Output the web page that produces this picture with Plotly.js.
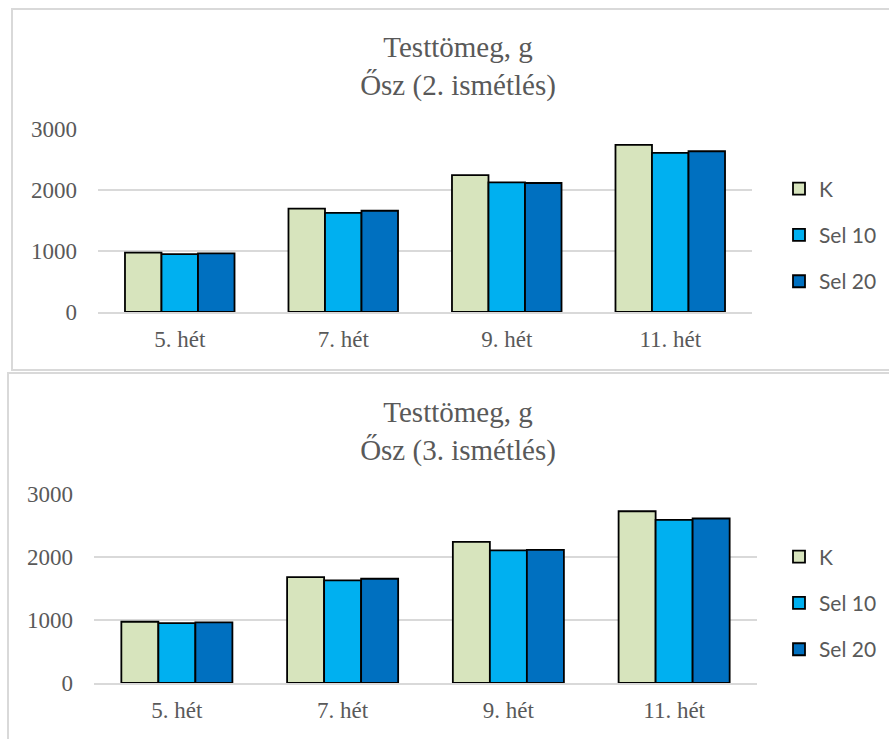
<!DOCTYPE html>
<html>
<head>
<meta charset="utf-8">
<script src="https://cdn.plot.ly/plotly-3.0.1.min.js"></script>
<style>
  html, body { margin: 0; padding: 0; background: #ffffff; width: 889px; height: 739px; overflow: hidden; }
  .plot { position: absolute; left: 0; width: 889px; }
  .box { position: absolute; border: 2px solid #d9d9d9; pointer-events: none; box-sizing: border-box; }
</style>
</head>
<body>
<div id="chart1" class="plot" style="top:0px;height:370px;"></div>
<div id="chart2" class="plot" style="top:370px;height:369px;"></div>
<div class="box" style="left:11px;top:8px;width:890px;height:363px;"></div>
<div class="box" style="left:7px;top:372px;width:890px;height:380px;"></div>
<script>
// Categories (weeks)
const categories = ["5. hét", "7. hét", "9. hét", "11. hét"];
const seriesNames = ["K", "Sel 10", "Sel 20"];

// Chart 1: Ősz (2. ismétlés)
const k_rep2     = [975, 1695, 2245, 2740];
const sel10_rep2 = [950, 1625, 2125, 2610];
const sel20_rep2 = [960, 1660, 2115, 2635];

// Chart 2: Ősz (3. ismétlés)
const k_rep3     = [972, 1682, 2241, 2726];
const sel10_rep3 = [949, 1630, 2104, 2589];
const sel20_rep3 = [962, 1655, 2114, 2611];

const yTicks = [0, 1000, 2000, 3000];
const titles = ["Testtömeg, g<br>Ősz (2. ismétlés)", "Testtömeg, g<br>Ősz (3. ismétlés)"];

const colors = ["#d7e4bd", "#00b0f0", "#0070c0"];
const textColor = "#595959";
const serif = "'Liberation Serif', 'Times New Roman', serif";

function makeTraces(seriesValues) {
  return seriesValues.map((vals, i) => ({
    type: "bar",
    name: seriesNames[i],
    x: categories,
    y: vals,
    legendgroup: "g" + i,
    marker: { color: colors[i], line: { color: "#000000", width: 1.8 } },
    hoverinfo: "skip"
  }));
}

function makeLayout(opts) {
  return {
    width: 889,
    height: opts.height,
    paper_bgcolor: "rgba(0,0,0,0)",
    plot_bgcolor: "rgba(0,0,0,0)",
    margin: { l: opts.l, r: opts.r, t: opts.t, b: opts.b, pad: 0, autoexpand: false },
    title: {
      text: opts.title,
      font: { family: serif, size: 29, color: textColor },
      x: opts.titleX, xref: "container", xanchor: "center",
      y: opts.titleY, yref: "container", yanchor: "top"
    },
    barmode: "group",
    bargap: 0.33,
    bargroupgap: 0,
    showlegend: true,
    legend: {
      x: opts.legX, xref: "container", xanchor: "left",
      y: opts.legY, yref: "container", yanchor: "middle",
      font: { family: "Lato, 'Open Sans', sans-serif", size: 21, color: textColor },
      traceorder: "grouped",
      tracegroupgap: 16,
      bgcolor: "rgba(0,0,0,0)"
    },
    xaxis: {
      type: "category",
      showgrid: false,
      showline: true,
      linecolor: "#d9d9d9",
      linewidth: 2,
      ticks: "",
      ticklabelstandoff: 5,
      tickfont: { family: serif, size: 23, color: textColor },
      fixedrange: true
    },
    yaxis: {
      range: [0, 3000],
      tickvals: yTicks,
      ticktext: yTicks.map(String),
      showgrid: true,
      gridcolor: "#d9d9d9",
      gridwidth: 1.5,
      zeroline: false,
      showline: false,
      ticks: "",
      ticklabelstandoff: 20,
      tickfont: { family: serif, size: 23, color: textColor },
      fixedrange: true
    }
  };
}

const config = { staticPlot: true, displayModeBar: false };

Plotly.newPlot("chart1",
  makeTraces([k_rep2, sel10_rep2, sel20_rep2]),
  makeLayout({ height: 370, l: 98, r: 137, t: 129, b: 58, title: titles[0],
               titleX: 458/889, titleY: 1 - 57/370, legX: 779/889, legY: 1 - 235/370 }),
  config);

Plotly.newPlot("chart2",
  makeTraces([k_rep3, sel10_rep3, sel20_rep3]),
  makeLayout({ height: 369, l: 93.5, r: 132, t: 123.5, b: 55.7, title: titles[1],
               titleX: 458/889, titleY: 1 - 52/369, legX: 779/889, legY: 1 - 233/369 }),
  config);
</script>
</body>
</html>
